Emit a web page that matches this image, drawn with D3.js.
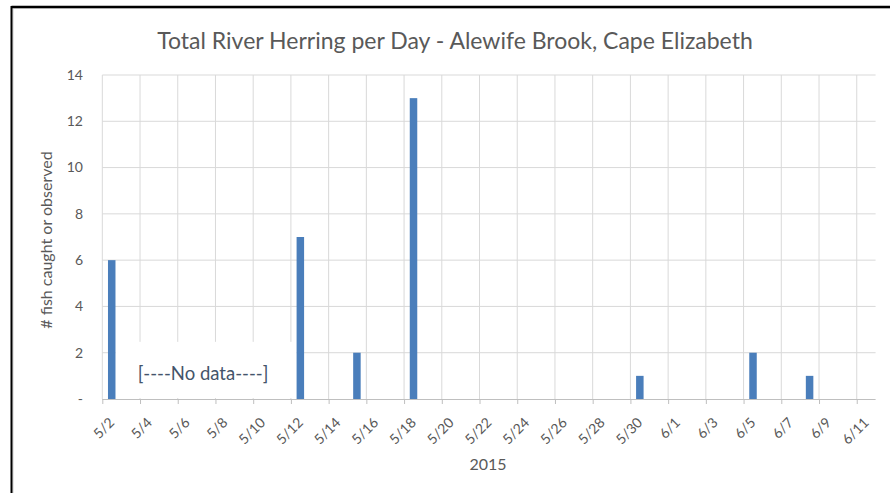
<!DOCTYPE html>
<html><head><meta charset="utf-8">
<script src="https://cdn.jsdelivr.net/npm/d3@7"></script>
<style>body{margin:0;background:#fff;}svg text{font-family:Lato,"Open Sans",sans-serif;}</style>
</head><body><svg id="c" width="890" height="493"></svg>
<script>
const title = "Total River Herring per Day - Alewife Brook, Cape Elizabeth";
const yTitle = "# fish caught or observed";
const xTitle = "2015";
const dates = ["2015-05-02","2015-05-12","2015-05-15","2015-05-18","2015-05-30","2015-06-05","2015-06-08"];
const counts = [6,7,2,13,1,2,1];
const yTicks = [0,2,4,6,8,10,12,14];
const noDataLabel = "[----No data----]";
const noDataRange = ["2015-05-03","2015-05-12"];

const parse = d3.utcParse("%Y-%m-%d");
const svg = d3.select("#c");
const W=890,H=493;
const m = {l:102.3, r:875.6, t:75, b:399};
const x = d3.scaleUtc().domain([parse("2015-05-02"), parse("2015-06-12")]).range([m.l, m.r]);
const y = d3.scaleLinear().domain([0,14]).range([m.b, m.t]);
const day = x(parse("2015-05-03")) - x(parse("2015-05-02"));
const bw = 7.5;

// frame
svg.append("rect").attr("x",13).attr("y",8).attr("width",W).attr("height",H).attr("fill","none").attr("stroke","#e6e6e6").attr("stroke-width",2);
svg.append("line").attr("x1",11.5).attr("x2",W).attr("y1",7).attr("y2",7).attr("stroke","#000").attr("stroke-width",2.5);
svg.append("line").attr("x1",11.5).attr("x2",11.5).attr("y1",6).attr("y2",H).attr("stroke","#000").attr("stroke-width",2);

// title
svg.append("text").attr("x",455).attr("y",49).attr("text-anchor","middle").attr("font-size",23).attr("fill","#595959").text(title);

// gridlines horizontal
svg.append("g").selectAll("line").data(yTicks.filter(v=>v>0)).join("line")
  .attr("x1",m.l).attr("x2",m.r).attr("y1",d=>y(d)).attr("y2",d=>y(d))
  .attr("stroke","#d9d9d9").attr("stroke-width",1);
// x ticks every 2 days
const xTicks = d3.utcDay.range(parse("2015-05-02"), parse("2015-06-12"), 2);
svg.append("g").selectAll("line").data(xTicks).join("line")
  .attr("x1",d=>x(d)).attr("x2",d=>x(d)).attr("y1",m.t).attr("y2",m.b)
  .attr("stroke","#d9d9d9").attr("stroke-width",1);

// no data box
const bx0 = x(parse(noDataRange[0])) - day/2 + bw/2;
const bx1 = x(parse(noDataRange[1])) + day/2 - bw/2;
svg.append("rect").attr("x",bx0).attr("y",y(2.47))
  .attr("width",bx1-bx0).attr("height",y(0)-y(2.47)-1)
  .attr("fill","#fff");
svg.append("text").attr("x",(bx0+bx1)/2-3).attr("y",y(0.83))
  .attr("text-anchor","middle").attr("font-size",18.5).attr("fill","#44546a").text(noDataLabel);

// bars
svg.append("g").selectAll("rect").data(dates.map((d,i)=>({d:parse(d),v:counts[i]}))).join("rect")
  .attr("x",d=>x(d.d)+day/2-bw/2).attr("width",bw)
  .attr("y",d=>y(d.v)).attr("height",d=>y(0)-y(d.v)).attr("fill","#4a7ebb");

// x axis
const xa = svg.append("g").attr("transform",`translate(0,${m.b})`)
  .call(d3.axisBottom(x).tickValues(xTicks).tickSize(5).tickFormat(d3.utcFormat("%-m/%-d")));
xa.select(".domain").attr("stroke","#bfbfbf").attr("d",`M${m.l},0.5H${m.r}`);
xa.selectAll(".tick line").attr("stroke","#bfbfbf");
xa.selectAll(".tick text").attr("fill","#595959").attr("font-size",14)
  .attr("text-anchor","end").attr("dy","0.35em").attr("y",0)
  .attr("transform","translate(9,21) rotate(-45)");

// y axis labels
svg.append("g").selectAll("text").data(yTicks).join("text")
  .attr("x",83).attr("y",d=>y(d)).attr("dy","0.35em").attr("text-anchor","end")
  .attr("font-size",14).attr("fill","#595959").text(d=>d===0?"-":d);

// axis titles
svg.append("text").attr("transform",`translate(52,${(m.t+m.b)/2+3}) rotate(-90)`).attr("text-anchor","middle")
  .attr("font-size",16).attr("fill","#595959").text(yTitle);
svg.append("text").attr("x",488).attr("y",470).attr("text-anchor","middle").attr("font-size",16).attr("fill","#595959").text(xTitle);
</script></body></html>
